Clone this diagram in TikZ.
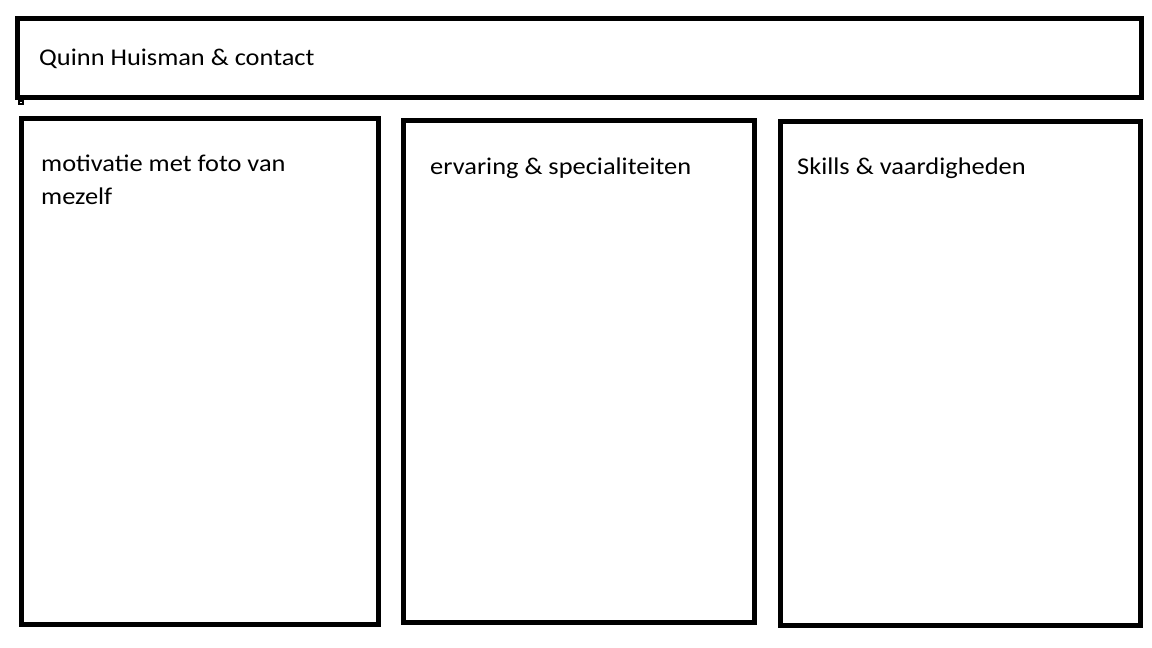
\documentclass[tikz,border=0pt]{standalone}
\usepackage{fontspec}
\setmainfont{Carlito}
\usepackage{tikz}

\begin{document}
\begin{tikzpicture}[x=1pt,y=-1pt,
    frame/.style={draw=black,line width=5pt},
    label/.style={anchor=base west,inner sep=0pt,align=left,xscale=1.1,
        font=\fontsize{24}{32.5}\selectfont}]
\useasboundingbox (0,0) rectangle (1152,648);

% Header
\draw[frame] (17.5,18.5) rectangle (1141.5,97.5);
\node[label] (name) at (39,65) {Quinn Huisman \& contact};
\draw[line width=2pt] (18.5,101) rectangle (22.5,104);

% Columns
\begin{scope}
\draw[frame] (21.5,118.5) rectangle (378.5,624.5);
\node[label] (motivation) at (41,204) {motivatie met foto van\\mezelf};
\end{scope}

\begin{scope}
\draw[frame] (403.5,120.5) rectangle (754.5,622);
\node[label] (experience) at (430,174) {ervaring \& specialiteiten};
\end{scope}

\begin{scope}
\draw[frame] (780.5,121.5) rectangle (1140.5,625.5);
\node[label] (skills) at (797,174) {Skills \& vaardigheden};
\end{scope}
\end{tikzpicture}
\end{document}
